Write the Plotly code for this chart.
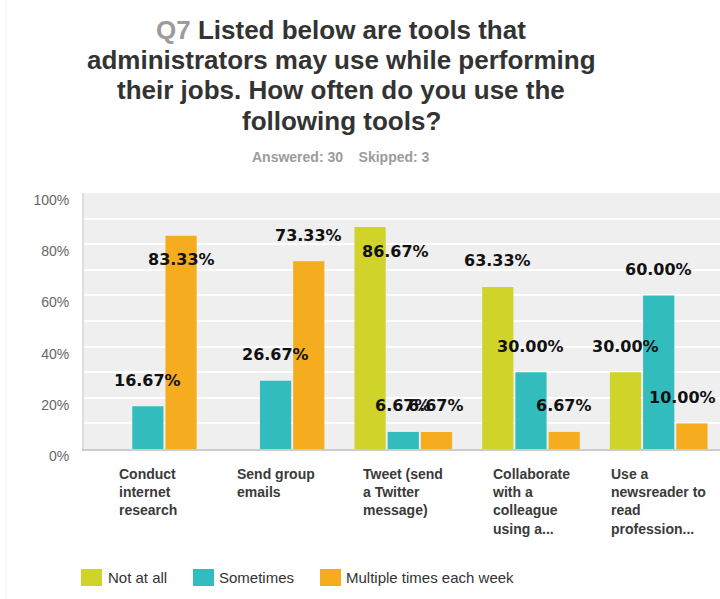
import plotly.graph_objects as go

# Survey question Q7: how often administrators use each tool
categories = [
    "Conduct<br>internet<br>research",
    "Send group<br>emails",
    "Tweet (send<br>a Twitter<br>message)",
    "Collaborate<br>with a<br>colleague<br>using a...",
    "Use a<br>newsreader to<br>read<br>profession...",
]
series_names = ["Not at all", "Sometimes", "Multiple times each week"]
not_at_all = [0.00, 0.00, 86.67, 63.33, 30.00]
sometimes = [16.67, 26.67, 6.67, 30.00, 60.00]
multiple_times = [83.33, 73.33, 6.67, 6.67, 10.00]
y_tick_values = [0, 20, 40, 60, 80, 100]
y_tick_labels = ["0%", "20%", "40%", "60%", "80%", "100%"]

title_lines = [
    '<span style="color:#9b9b9b">Q7</span> Listed below are tools that',
    "administrators may use while performing",
    "their jobs. How often do you use the",
    "following tools?",
]
subtitle = "Answered: 30&nbsp;&nbsp;&nbsp;&nbsp;Skipped: 3"

colors = ["#cfd32a", "#33bcbd", "#f5ac1e"]
values = [not_at_all, sometimes, multiple_times]

W, H = 720, 599
L, R, T, B = 84, 720, 193, 449  # plot area in pixels
BARGAP = 0.22


def px_x(x):
    return (x - L) / (R - L)


def px_y(y):
    return (B - y) / (B - T)


fig = go.Figure()
for name, vals, col in zip(series_names, values, colors):
    fig.add_trace(go.Bar(
        x=list(range(len(categories))), y=vals, name=name,
        marker=dict(color=col, line=dict(width=0)),
        showlegend=False, hoverinfo="skip",
    ))

annotations = []

# value labels above each bar (inside the bar top for the tallest ones)
nudge_x = {(2, 0): 25, (4, 2): -9}
slot = (1 - BARGAP) / len(values)
for k, vals in enumerate(values):
    for i, v in enumerate(vals):
        if v <= 0:
            continue
        annotations.append(dict(
            x=i + (k - 1) * slot, y=v, xref="x", yref="y",
            text=f"{v:.2f}%", showarrow=False,
            xanchor="center", yanchor="middle",
            yshift=-24 if v > 80 else 26,
            xshift=nudge_x.get((i, k), 0),
            font=dict(family="DejaVu Sans", size=16, color="#111111", weight="bold"),
        ))

# category labels, left-aligned lines centred under each group
for i, cat in enumerate(categories):
    annotations.append(dict(
        x=i, y=0, xref="x", yref="paper", text=cat, showarrow=False,
        xanchor="center", yanchor="top", align="left", yshift=-15,
        font=dict(family="Liberation Sans, Arial", size=14, color="#3a3a3a", weight="bold"),
    ))

# title block
title_y = [30, 60, 90, 121]
for line, yy in zip(title_lines, title_y):
    annotations.append(dict(
        x=px_x(341), y=px_y(yy), xref="paper", yref="paper", text=line,
        showarrow=False, xanchor="center", yanchor="middle",
        font=dict(family="Liberation Sans, Arial", size=26, color="#333333", weight="bold"),
    ))
annotations.append(dict(
    x=px_x(341), y=px_y(157), xref="paper", yref="paper", text=subtitle,
    showarrow=False, xanchor="center", yanchor="middle",
    font=dict(family="Liberation Sans, Arial", size=14, color="#9b9b9b", weight="bold"),
))

# legend
shapes = []
legend_boxes = [(81, 102), (193, 214), (320, 341)]
legend_text_x = [106, 217, 344]
for (x0, x1), tx, name, col in zip(legend_boxes, legend_text_x, series_names, colors):
    shapes.append(dict(
        type="rect", xref="paper", yref="paper",
        x0=px_x(x0), x1=px_x(x1), y0=px_y(586), y1=px_y(569),
        fillcolor=col, line=dict(width=0),
    ))
    annotations.append(dict(
        x=px_x(tx), y=px_y(577.5), xref="paper", yref="paper", text=name,
        showarrow=False, xanchor="left", yanchor="middle",
        font=dict(family="Liberation Sans, Arial", size=15, color="#333333"),
    ))

# faint frame line on the left
shapes.append(dict(
    type="line", xref="paper", yref="paper",
    x0=px_x(6), x1=px_x(6), y0=px_y(H), y1=px_y(0),
    line=dict(color="#eeeeee", width=1),
))

fig.update_layout(
    width=W, height=H,
    margin=dict(l=L, r=W - R, t=T, b=H - B, pad=0),
    paper_bgcolor="#ffffff", plot_bgcolor="#efefef",
    barmode="group", bargap=BARGAP, bargroupgap=0.06,
    annotations=annotations, shapes=shapes,
    showlegend=False,
    xaxis=dict(
        range=[-0.5, 4.48], showticklabels=False, showgrid=False,
        zeroline=False, showline=True, linecolor="#cccccc", linewidth=2,
        fixedrange=True,
    ),
    yaxis=dict(
        range=[0, 100], tickvals=y_tick_values, ticktext=y_tick_labels,
        showgrid=True, gridcolor="#ffffff", gridwidth=2,
        minor=dict(dtick=10, showgrid=True, gridcolor="#ffffff", gridwidth=2),
        zeroline=False, showline=True, linecolor="#dddddd", linewidth=2,
        ticklabelshift=7, ticklabelstandoff=10,
        tickfont=dict(family="Liberation Sans, Arial", size=14, color="#666666"),
        fixedrange=True,
    ),
)

fig.write_html("out.html", config={"displayModeBar": False})
